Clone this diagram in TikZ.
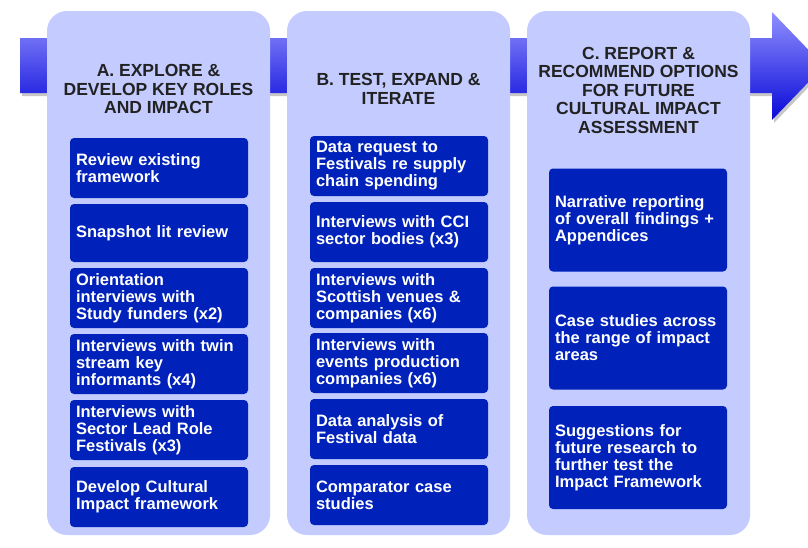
\documentclass[tikz,border=0pt]{standalone}
\usepackage{fontspec}
\setmainfont{Liberation Sans}
\definecolor{lavender}{HTML}{C3CBFF}
\definecolor{boxblue}{HTML}{0022BB}
\definecolor{arrowtop}{HTML}{9090FF}
\definecolor{arrowbot}{HTML}{0808D8}
\definecolor{titlegray}{HTML}{222222}
\begin{document}
\begin{tikzpicture}[x=1pt,y=-1pt]
\tikzset{column/.style = {shape=rectangle,fill=lavender,rounded corners=20pt,minimum width=223pt,minimum height=524pt,inner sep=0pt}}
\tikzset{title/.style = {align=center,text=titlegray,font=\bfseries\fontsize{17.5}{18.5}\selectfont}}
\tikzset{task/.style = {shape=rectangle,fill=boxblue,text=white,rounded corners=4pt,align=left,text width=166pt,inner xsep=6pt,minimum height=60pt,font=\bfseries\fontsize{16.5}{17}\selectfont}}
\tikzset{bigtask/.style = {task,minimum height=103pt}}
\useasboundingbox (0,0) rectangle (808,547);
\clip (0,0) rectangle (808,547);
% process arrow behind the columns
\fill[black!22] (22,41) -- (774,41) -- (774,15) -- (826,69) -- (774,123) -- (774,96) -- (22,96) -- cycle;
\shade[top color=arrowtop,bottom color=arrowbot] (20,38) -- (772,38) -- (772,12) -- (824,66) -- (772,120) -- (772,93) -- (20,93) -- cycle;
% columns
\node[column] (colA) at (158.5,273) {};
\node[column] (colB) at (398.5,273) {};
\node[column] (colC) at (638.5,273) {};
% column titles
\node[title] (titleA) at (158.5,89) {A. EXPLORE \&\\DEVELOP KEY ROLES\\AND IMPACT};
\node[title] (titleB) at (398.5,89) {B. TEST, EXPAND \&\\ITERATE};
\node[title] (titleC) at (638.5,90) {C. REPORT \&\\RECOMMEND OPTIONS\\FOR FUTURE\\CULTURAL IMPACT\\ASSESSMENT};
% tasks in column A
\node[task] (a1) at (159,168) {Review existing\\framework};
\node[task,minimum height=58pt] (a2) at (159,233) {Snapshot lit review};
\node[task] (a3) at (159,298) {Orientation\\interviews with\\Study funders (x2)};
\node[task] (a4) at (159,364) {Interviews with twin\\stream key\\informants (x4)};
\node[task] (a5) at (159,430) {Interviews with\\Sector Lead Role\\Festivals (x3)};
\node[task] (a6) at (159,497) {Develop Cultural\\Impact framework};
% tasks in column B
\node[task] (b1) at (399,166) {Data request to\\Festivals re supply\\chain spending};
\node[task] (b2) at (399,232) {Interviews with CCI\\sector bodies (x3)};
\node[task] (b3) at (399,298) {Interviews with\\Scottish venues \&\\companies (x6)};
\node[task] (b4) at (399,363) {Interviews with\\events production\\companies (x6)};
\node[task] (b5) at (399,429) {Data analysis of\\Festival data};
\node[task] (b6) at (399,495) {Comparator case\\studies};
% tasks in column C
\node[bigtask] (c1) at (638,220) {Narrative reporting\\of overall findings +\\Appendices};
\node[bigtask] (c2) at (638,338) {Case studies across\\the range of impact\\areas};
\node[bigtask] (c3) at (638,457.5) {Suggestions for\\future research to\\further test the\\Impact Framework};
\end{tikzpicture}
\end{document}
